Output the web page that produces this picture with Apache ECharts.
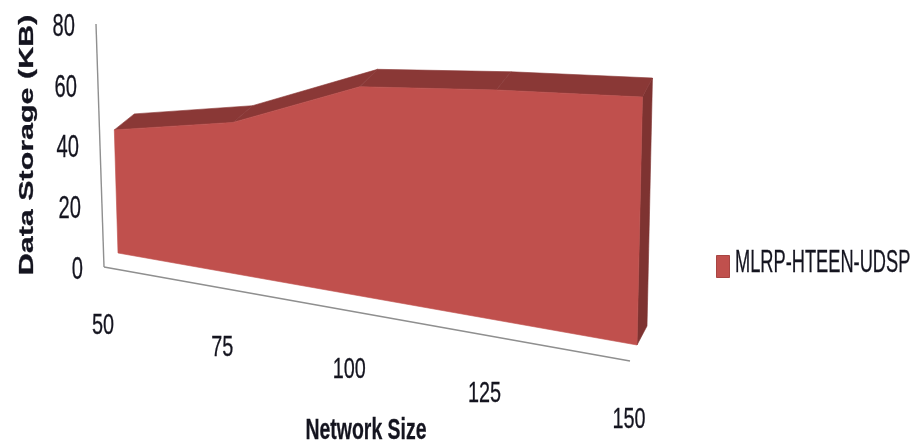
<!DOCTYPE html>
<html>
<head>
<meta charset="utf-8">
<style>html,body{margin:0;padding:0;background:#fff}#chart{width:918px;height:446px}</style>
<script src="https://cdn.jsdelivr.net/npm/echarts@6/dist/echarts.min.js"></script>
</head>
<body>
<div id="chart"></div>
<script>
const seriesName = 'MLRP-HTEEN-UDSP';
const networkSizes = ['50', '75', '100', '125', '150'];
const storageKB = [40.5, 46.5, 60, 61.5, 62];
const storageTicks = [0, 20, 40, 60, 80];
const yTitle = 'Data Storage (KB)';
const xTitle = 'Network Size';

const FONT = '"Liberation Sans", Arial, sans-serif';
const FRONT = '#c0504d', TOP = '#8a3836', SIDE = '#7e3331', AXIS = '#8f8f8f', INK = '#14141f';

const lerp = (a, b, k) => a + (b - a) * k;

// Perspective foreshortening of the category axis
const ease = t => (t * 0.88) / (1 + t * (0.88 - 1));

// Projects a point of the flat grid onto the oblique 3D face of the chart
function project(t, frac, back) {
  const s = ease(t);
  const baseX = lerp(118, 637, s), baseY = lerp(253, 345, s);
  const span = 80 * lerp(3.04, 4, s);
  const lean = lerp(-0.03, 0.022, s);
  const h = frac * span;
  let x = baseX + lean * h, y = baseY - h;
  if (back) {
    x += 20 - 10 * s * s;
    y += lerp(-16, -19, s);
  }
  return [x, y];
}

function gridFractions(api, params, i, v) {
  const r = params.coordSys;
  const p = api.coord([i, v]);
  return [(p[0] - r.x) / r.width, (r.y + r.height - p[1]) / r.height];
}

function renderArea(params, api) {
  if (params.dataIndex !== 0) return null;
  const n = storageKB.length;
  const front = [], back = [];
  for (let i = 0; i < n; i++) {
    const [t, f] = gridFractions(api, params, api.value(0, i), api.value(1, i));
    front.push(project(t, f, false));
    back.push(project(t, f, true));
  }
  const baseL = project(0, 0, false), baseR = project(1, 0, false), baseRB = project(1, 0, true);
  const poly = (points, fill) => ({
    type: 'polygon', shape: { points }, style: { fill, stroke: fill, lineWidth: 0.6 }
  });
  const tops = [];
  for (let i = 0; i < n - 1; i++) {
    tops.push(poly([front[i], front[i + 1], back[i + 1], back[i]], TOP));
  }
  return {
    type: 'group',
    children: [
      poly([baseR, front[n - 1], back[n - 1], baseRB], SIDE),
      ...tops,
      poly([baseL, ...front, baseR], FRONT)
    ]
  };
}

const wallPoint = k => [lerp(104, 96, k), lerp(267, 24, k)];
const floorPoint = s => [lerp(104, 630, s), lerp(267, 361, s)];

function textEl(text, x, y, o) {
  return {
    type: 'text', x, y, rotation: o.rotation || 0, scaleX: o.scaleX || 1, scaleY: o.scaleY || 1,
    style: {
      text, fill: INK, stroke: INK, lineWidth: o.heavy || 0.3,
      fontFamily: FONT, fontSize: o.size, fontWeight: o.weight || 'normal',
      align: o.align || 'center', verticalAlign: 'middle'
    }
  };
}

function renderFrame(params, api) {
  const kids = [];
  const line = (a, b) => ({
    type: 'line', shape: { x1: a[0], y1: a[1], x2: b[0], y2: b[1] },
    style: { stroke: AXIS, lineWidth: 1.4 }
  });
  kids.push(line(wallPoint(0), wallPoint(1)));
  kids.push(line(floorPoint(0), floorPoint(1)));
  storageTicks.forEach(v => {
    const [, f] = gridFractions(api, params, 0, v);
    const p = wallPoint(f);
    kids.push(textEl(String(v), p[0] - 21, p[1] + 3, { size: 32, align: 'right', scaleX: 0.63 }));
  });
  networkSizes.forEach((c, i) => {
    const [t] = gridFractions(api, params, i, 0);
    const p = floorPoint(ease(t));
    kids.push(textEl(c, p[0] - 1, p[1] + 59, { size: 30, scaleX: 0.66 }));
  });
  kids.push(textEl(yTitle, 27, 145, { size: 21, weight: 'bold', rotation: Math.PI / 2, scaleX: 1.45 }));
  kids.push(textEl(xTitle, 366, 431, { size: 29, weight: 'bold', scaleX: 0.67 }));
  kids.push(textEl(seriesName, 735, 263, { size: 32, align: 'left', scaleX: 0.57 }));
  return { type: 'group', children: kids };
}

const chart = echarts.init(document.getElementById('chart'), null, { renderer: 'canvas' });
chart.setOption({
  animation: false,
  backgroundColor: '#ffffff',
  grid: { left: 120, right: 280, top: 40, bottom: 100 },
  xAxis: { type: 'category', data: networkSizes, boundaryGap: false, show: false },
  yAxis: { type: 'value', min: 0, max: 80, interval: 20, show: false },
  legend: {
    data: [seriesName], left: 711, top: 250, itemWidth: 13, itemHeight: 22,
    icon: 'rect', selectedMode: false, formatter: () => ' ',
    itemStyle: { borderColor: '#a84542', borderWidth: 1 }
  },
  series: [
    {
      name: 'frame', type: 'custom', coordinateSystem: 'cartesian2d', silent: true,
      data: [[0, 0]], renderItem: renderFrame, clip: false, z: 1
    },
    {
      name: seriesName, type: 'custom', coordinateSystem: 'cartesian2d', silent: true,
      itemStyle: { color: FRONT },
      data: storageKB.map((v, i) => [i, v]), renderItem: renderArea, clip: false, z: 2
    }
  ]
});
</script>
</body>
</html>
